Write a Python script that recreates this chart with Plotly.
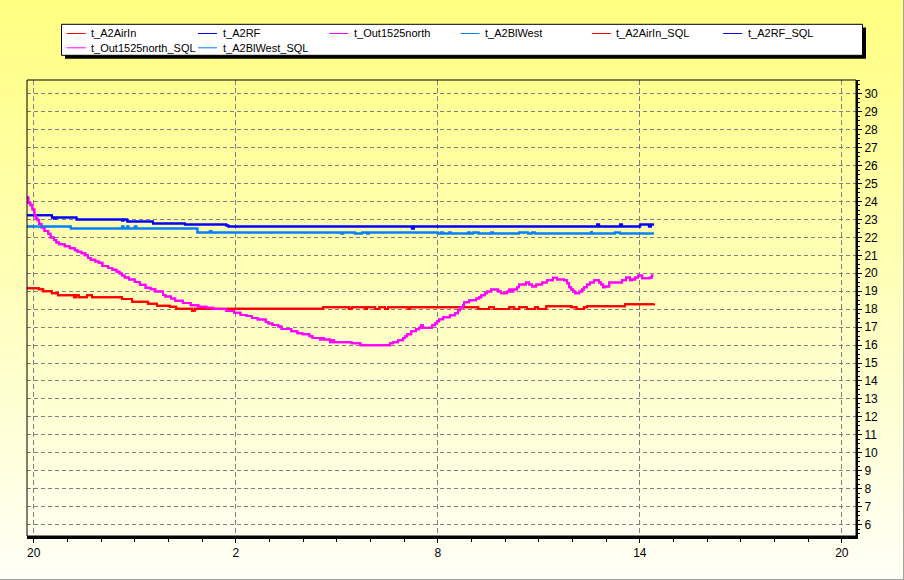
import numpy as np
import plotly.graph_objects as go

# Время в часах от 20:00, температура в градусах
t_airin = [-0.2, 0.15, 0.28, 0.54, 0.72, 1.2, 1.26, 1.34, 1.58, 1.73, 2.62, 2.92, 3.39, 3.66, 4.04,
           4.23, 4.7, 4.78, 8.59, 9.36, 9.44, 9.84, 9.9, 10.14, 10.26, 10.43, 10.52, 11.13, 11.18, 13.2,
           13.52, 13.67, 14.12, 14.27, 14.41, 14.65, 14.89, 14.98, 15.22, 15.97, 16.12, 16.34, 16.43,
           17.56, 18.42]
v_airin = [19.17, 19.11, 19.0, 18.89, 18.78, 18.67, 18.78, 18.67, 18.78, 18.67, 18.57, 18.41, 18.3, 18.19, 18.13,
           18.02, 17.91, 18.02, 18.1, 18.01, 18.1, 18.01, 18.1, 18.01, 18.1, 18.01, 18.1, 18.01, 18.1, 18.01,
           18.1, 18.01, 18.1, 18.01, 18.1, 18.01, 18.1, 18.01, 18.16, 18.1, 18.01, 18.1, 18.16,
           18.27, 18.3]

t_rf = [-0.2, 0.54, 0.6, 0.65, 1.27, 2.62, 2.67, 2.78, 3.54, 4.49, 5.72, 5.78, 11.23, 11.29,
        16.73, 16.79, 17.41, 17.47, 18.01, 18.27, 18.33, 18.42]
v_rf = [23.24, 23.11, 23.05, 23.11, 23.0, 22.94, 23.0, 22.89, 22.77, 22.72, 22.66, 22.61, 22.5, 22.61,
        22.72, 22.61, 22.72, 22.61, 22.72, 22.61, 22.72, 22.72]

t_out = [-0.2, -0.16, -0.1, -0.04, 0.02, 0.06, 0.11, 0.16, 0.23, 0.32,
         0.43, 0.5, 0.6, 0.67, 0.75, 0.92, 1.07, 1.22, 1.3, 1.42,
         1.53, 1.61, 1.69, 1.83, 1.93, 2.04, 2.21, 2.33, 2.46, 2.55,
         2.62, 2.7, 2.83, 3.0, 3.15, 3.32, 3.47, 3.61, 3.84, 3.91,
         4.08, 4.2, 4.43, 4.66, 4.89, 5.13, 5.33, 5.72, 5.95, 6.14,
         6.32, 6.48, 6.65, 6.89, 6.97, 7.09, 7.26, 7.36, 7.65, 7.83,
         7.98, 8.19, 8.28, 8.5, 8.55, 8.62, 8.8, 8.86, 8.92, 9.44,
         9.7, 10.58, 10.67, 10.82, 10.97, 11.03, 11.09, 11.21, 11.35, 11.44,
         11.5, 11.56, 11.83, 11.92, 11.98, 12.04, 12.16, 12.36, 12.51, 12.6,
         12.66, 12.75, 12.78, 12.93, 13.14, 13.23, 13.29, 13.4, 13.46, 13.58,
         13.79, 13.88, 14.06, 14.12, 14.18, 14.24, 14.35, 14.41, 14.62, 14.71,
         14.8, 14.92, 15.1, 15.24, 15.42, 15.54, 15.75, 15.84, 15.9, 15.96,
         16.02, 16.08, 16.2, 16.28, 16.34, 16.43, 16.52, 16.64, 16.79, 16.85,
         16.91, 16.97, 17.09, 17.47, 17.59, 17.71, 17.77, 17.86, 17.95, 18.07,
         18.3, 18.36, 18.4]
v_out = [24.22, 23.92, 23.79, 23.55, 23.25, 23.05, 22.96, 22.75, 22.55, 22.36,
         22.2, 22.0, 21.85, 21.72, 21.62, 21.51, 21.4, 21.29, 21.2, 21.11,
         21.0, 20.85, 20.75, 20.66, 20.59, 20.4, 20.29, 20.19, 20.08, 19.99,
         19.88, 19.77, 19.66, 19.51, 19.36, 19.19, 19.11, 18.99, 18.79, 18.7,
         18.6, 18.47, 18.34, 18.22, 18.14, 18.08, 18.01, 17.9, 17.8, 17.68,
         17.62, 17.51, 17.42, 17.29, 17.2, 17.12, 17.03, 16.9, 16.77, 16.66,
         16.6, 16.49, 16.4, 16.31, 16.4, 16.31, 16.16, 16.27, 16.16, 16.1,
         15.99, 16.1, 16.16, 16.27, 16.4, 16.49, 16.6, 16.77, 16.88, 16.97,
         17.1, 16.97, 17.1, 17.22, 17.33, 17.44, 17.55, 17.66, 17.77, 17.94,
         18.1, 18.22, 18.38, 18.49, 18.6, 18.66, 18.77, 18.88, 18.99, 19.1,
         18.99, 18.88, 18.99, 19.1, 18.99, 19.1, 19.22, 19.38, 19.49, 19.38,
         19.27, 19.38, 19.49, 19.61, 19.75, 19.66, 19.61, 19.44, 19.22, 19.1,
         18.99, 18.88, 18.99, 19.1, 19.22, 19.38, 19.49, 19.61, 19.49, 19.38,
         19.22, 19.27, 19.49, 19.61, 19.77, 19.61, 19.66, 19.77, 19.88, 19.72,
         19.77, 19.88, 19.88]

t_blwest = [-0.2, 1.1, 2.62, 2.67, 2.78, 2.81, 3.0, 3.05, 4.86, 5.23, 5.28, 9.13, 9.19, 9.54, 9.75,
            9.9, 9.96, 12.0, 12.1, 12.16, 12.33, 12.39, 12.9, 12.96, 13.05, 13.21, 13.58, 13.64, 14.41, 14.68,
            14.8, 14.89, 16.55, 16.58, 17.26, 17.41, 18.42]
v_blwest = [22.61, 22.5, 22.61, 22.5, 22.61, 22.5, 22.61, 22.5, 22.27, 22.36, 22.27, 22.22, 22.27, 22.22, 22.27,
            22.22, 22.27, 22.22, 22.27, 22.22, 22.27, 22.22, 22.27, 22.22, 22.27, 22.22, 22.27, 22.22, 22.27, 22.22,
            22.27, 22.22, 22.3, 22.22, 22.27, 22.22, 22.22]

names = ['t_A2AirIn', 't_A2RF', 't_Out1525north', 't_A2BlWest',
         't_A2AirIn_SQL', 't_A2RF_SQL', 't_Out1525north_SQL', 't_A2BlWest_SQL']
colors = ['#FF0000', '#0000FF', '#FF00FF', '#0080FF'] * 2
series = [(t_airin, v_airin), (t_rf, v_rf), (t_out, v_out), (t_blwest, v_blwest)] * 2

tick_vals = [0, 6, 12, 18, 24]
tick_text = ['20', '2', '8', '14', '20']

# Размеры картинки и области графика в пикселях
W, H = 904, 580
L, R, T, B = 27, 48, 80, 44
PW, PH = W - L - R, H - T - B


def px_x(p):
    return (p - L) / PW


def px_y(p):
    return (H - B - p) / PH


fig = go.Figure()
for (x, y), name, c in zip(series, names, colors):
    fig.add_trace(go.Scatter(x=x, y=y, name=name, mode='lines', line_shape='hv',
                             line=dict(color=c, width=2), showlegend=False))

shapes = []
# Жёлтый градиент фона
n = 58
for i in range(n):
    p0, p1 = i * H / n, (i + 1) * H / n
    b = int(128 + 120 * (p0 + p1) / 2 / H)
    shapes.append(dict(type='rect', xref='paper', yref='paper', layer='below',
                       x0=px_x(0), x1=px_x(W), y0=px_y(p1), y1=px_y(p0),
                       fillcolor='rgb(255,255,%d)' % b, line_width=0))
# Рамка области графика
shapes.append(dict(type='rect', xref='paper', yref='paper', x0=0, x1=1, y0=0, y1=1,
                   line=dict(color='black', width=1)))
# Края окна
shapes.append(dict(type='line', xref='paper', yref='paper', x0=px_x(W - 0.5), x1=px_x(W - 0.5),
                   y0=px_y(0), y1=px_y(H), line=dict(color='#A0A0A0', width=1)))
shapes.append(dict(type='line', xref='paper', yref='paper', x0=px_x(0), x1=px_x(W),
                   y0=px_y(H - 0.5), y1=px_y(H - 0.5), line=dict(color='#A0A0A0', width=1)))
# Легенда: тень и рамка
shapes.append(dict(type='rect', xref='paper', yref='paper', x0=px_x(65), x1=px_x(866),
                   y0=px_y(58.7), y1=px_y(27.5), fillcolor='black', line_width=0))
shapes.append(dict(type='rect', xref='paper', yref='paper', x0=px_x(61.5), x1=px_x(862.5),
                   y0=px_y(55.3), y1=px_y(24.3), fillcolor='white', line=dict(color='black', width=1)))

annotations = []
for i, (name, c) in enumerate(zip(names, colors)):
    row, col = divmod(i, 6)
    x0 = 66.7 + 131.3 * col
    yy = 33.5 + 14.3 * row
    shapes.append(dict(type='line', xref='paper', yref='paper', x0=px_x(x0), x1=px_x(x0 + 19),
                       y0=px_y(yy), y1=px_y(yy), line=dict(color=c, width=1)))
    annotations.append(dict(text=name, xref='paper', yref='paper', x=px_x(x0 + 22.5), y=px_y(yy),
                            xanchor='left', yanchor='middle', showarrow=False,
                            font=dict(family='Liberation Sans, Arial', size=11, color='black')))

fig.update_layout(
    width=W, height=H,
    margin=dict(l=L, r=R, t=T, b=B),
    paper_bgcolor='#FFFFF8',
    plot_bgcolor='rgba(0,0,0,0)',
    shapes=shapes,
    annotations=annotations,
    showlegend=False,
    font=dict(family='Liberation Sans Narrow, Liberation Sans, Arial', size=12, color='black'),
    xaxis=dict(range=[-0.2, 24.42], tickmode='array', tickvals=tick_vals, ticktext=tick_text,
               ticks='outside', ticklen=4, tickcolor='black',
               minor=dict(dtick=1, tick0=0, ticks='outside', ticklen=3, tickcolor='black', showgrid=False),
               showgrid=True, gridcolor='#808080', griddash='5px,3px', gridwidth=1,
               showline=True, linecolor='black', linewidth=3, zeroline=False),
    yaxis=dict(range=[5.36, 30.77], side='right', dtick=1, tick0=0,
               ticks='outside', ticklen=4, tickcolor='black',
               minor=dict(dtick=0.25, ticks='outside', ticklen=2, tickcolor='black', showgrid=False),
               showgrid=True, gridcolor='#808080', griddash='4px,3px', gridwidth=1,
               showline=True, linecolor='black', linewidth=2, zeroline=False),
)

# убрать отступ страницы и панель инструментов
fig.write_html("out.html", config={'displayModeBar': False},
               post_script="document.body.style.margin='0';")
